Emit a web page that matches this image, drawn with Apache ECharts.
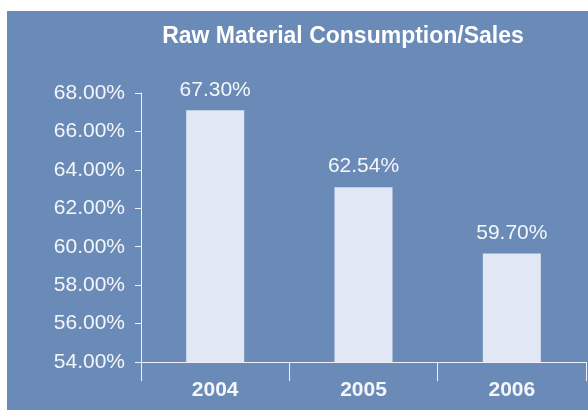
<!DOCTYPE html>
<html>
<head>
<meta charset="utf-8">
<script src="https://cdn.jsdelivr.net/npm/echarts@6/dist/echarts.min.js"></script>
<style>
html,body{margin:0;padding:0;background:#ffffff;width:588px;height:410px;overflow:hidden;}
#chart{position:absolute;left:7px;top:11px;width:581px;height:399px;}
</style>
</head>
<body>
<div id="chart"></div>
<script>
var categories = ['2004', '2005', '2006'];
var barValues = [67.1, 63.1, 59.65];
var valueLabels = ['67.30%', '62.54%', '59.70%'];
var yMin = 54, yMax = 68, yStep = 2;
var titleText = 'Raw Material Consumption/Sales';

var FONT = '"Liberation Sans", Arial, sans-serif';
var chart = echarts.init(document.getElementById('chart'), null, {renderer: 'canvas'});
var data = barValues.map(function (v, i) {
  return {value: v, label: {formatter: valueLabels[i]}};
});
chart.setOption({
  backgroundColor: '#6a8bb7',
  animation: false,
  title: {
    text: titleText,
    left: 331,
    top: 9,
    textAlign: 'center',
    textStyle: {color: '#ffffff', fontFamily: FONT, fontWeight: 'bold', fontSize: 23}
  },
  grid: {left: 134, right: 2, top: 82, bottom: 48},
  xAxis: {
    type: 'category',
    data: categories,
    boundaryGap: true,
    axisLine: {lineStyle: {color: '#eef1f7', width: 1}},
    axisTick: {show: true, length: 19, inside: false, lineStyle: {color: '#eef1f7'}},
    axisLabel: {color: '#f4f6fa', fontFamily: FONT, fontWeight: 'bold', fontSize: 21, margin: 18}
  },
  yAxis: {
    type: 'value',
    min: yMin,
    max: yMax,
    interval: yStep,
    axisLine: {show: true, lineStyle: {color: '#eef1f7', width: 1}},
    axisTick: {show: true, length: 6, lineStyle: {color: '#eef1f7'}},
    splitLine: {show: false},
    axisLabel: {
      color: '#f4f6fa', fontFamily: FONT, fontSize: 21, margin: 16,
      formatter: function (v) { return v.toFixed(2) + '%'; }
    }
  },
  series: [{
    type: 'bar',
    data: data,
    barWidth: 58,
    itemStyle: {color: '#e1e7f4'},
    label: {
      show: true,
      position: 'top',
      distance: 10,
      color: '#f4f6fa',
      fontFamily: FONT,
      fontSize: 21
    }
  }]
});
</script>
</body>
</html>
